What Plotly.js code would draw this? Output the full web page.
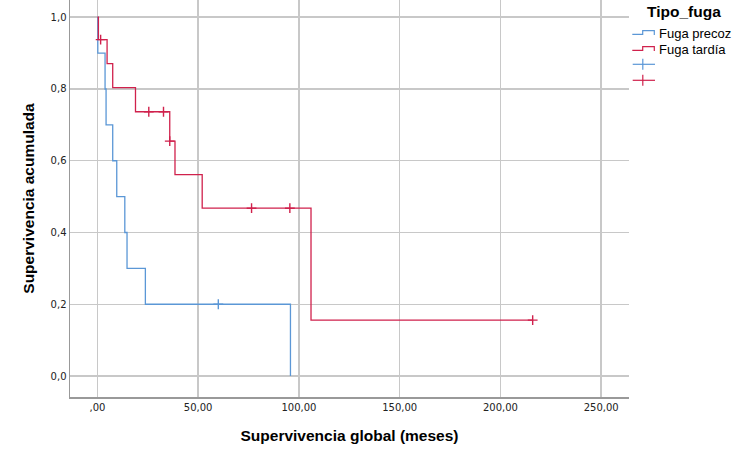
<!DOCTYPE html>
<html>
<head>
<meta charset="utf-8">
<script src="https://cdn.plot.ly/plotly-3.0.1.min.js"></script>
<style>html,body{margin:0;padding:0;background:#fff;}#chart{width:750px;height:459px;}</style>
</head>
<body>
<div id="chart"></div>
<script>
// Fuga precoz (early) – step times and cumulative survival
const precozTimes = [0, 0.2, 3.8, 4.3, 7.6, 9.6, 13.6, 14.7, 23.8, 95.8];
const precozSurv  = [1.0, 0.9, 0.8, 0.7, 0.6, 0.5, 0.4, 0.3, 0.2, 0.0];
const precozCensTimes = [60];
const precozCensSurv  = [0.2];

// Fuga tardía (late)
const tardiaTimes = [0, 0.5, 4.8, 7.6, 18.9, 35.9, 38.5, 52, 106, 216];
const tardiaSurv  = [1.0, 0.9375, 0.8705, 0.8036, 0.7366, 0.6548, 0.5613, 0.4677, 0.1559, 0.1559];
const tardiaCensTimes = [1.6, 25.5, 32.8, 35.9, 76.5, 95.5, 216];
const tardiaCensSurv  = [0.9375, 0.7366, 0.7366, 0.6548, 0.4677, 0.4677, 0.1559];

const xTickVals = [0, 50, 100, 150, 200, 250];
const xTickText = [',00', '50,00', '100,00', '150,00', '200,00', '250,00'];
const yTickVals = [0, 0.2, 0.4, 0.6, 0.8, 1.0];
const yTickText = ['0,0', '0,2', '0,4', '0,6', '0,8', '1,0'];

const groupNames = ['Fuga precoz', 'Fuga tardía'];
const legendTitle = 'Tipo_fuga';

const BLUE = '#5b97d6';
const RED = '#d0214c';

const censorMarker = c => ({symbol: 'cross-thin-open', size: 7, color: c, line: {color: c, width: 1.4}});

const traces = [
  {x: precozTimes, y: precozSurv, type: 'scatter', mode: 'lines', line: {shape: 'hv', color: BLUE, width: 1.3}, name: groupNames[0]},
  {x: tardiaTimes, y: tardiaSurv, type: 'scatter', mode: 'lines', line: {shape: 'hv', color: RED, width: 1.3}, name: groupNames[1]},
  {x: precozCensTimes, y: precozCensSurv, type: 'scatter', mode: 'markers', marker: censorMarker(BLUE), name: ' '},
  {x: tardiaCensTimes, y: tardiaCensSurv, type: 'scatter', mode: 'markers', marker: censorMarker(RED), name: ' '}
];

// plot area in pixels
const L = 70, R = 629, T = 0, B = 397;
const px = v => (v - L) / (R - L);
const py = v => (B - v) / (B - T);

const shapes = [];
const annotations = [];
// manual legend
annotations.push({xref: 'paper', yref: 'paper', x: px(645), y: py(12), xanchor: 'left', yanchor: 'middle', showarrow: false,
  text: '<b>' + legendTitle + '</b>', font: {family: 'Liberation Sans, Arial, sans-serif', size: 15.5, color: '#000'}});
const itemColors = [BLUE, RED];
[34.3, 50.3].forEach((yy, i) => {
  const lo = yy, hi = yy - 3.6;
  shapes.push({type: 'path', xref: 'paper', yref: 'paper',
    path: `M ${px(632.3)},${py(lo)} L ${px(642.7)},${py(lo)} L ${px(642.7)},${py(hi)} L ${px(654.3)},${py(hi)} L ${px(654.3)},${py(lo + 0.7)}`,
    line: {color: itemColors[i], width: 1.2}});
  annotations.push({xref: 'paper', yref: 'paper', x: px(657), y: py(yy - 0.5), xanchor: 'left', yanchor: 'middle', showarrow: false,
    text: groupNames[i], font: {family: 'Liberation Sans, Arial, sans-serif', size: 13, color: '#000'}});
});
[64.3, 80.3].forEach((yy, i) => {
  shapes.push({type: 'line', xref: 'paper', yref: 'paper', x0: px(632.7), x1: px(655), y0: py(yy), y1: py(yy), line: {color: itemColors[i], width: 1.2}});
  shapes.push({type: 'line', xref: 'paper', yref: 'paper', x0: px(642.8), x1: px(642.8), y0: py(yy - 5.5), y1: py(yy + 5.5), line: {color: itemColors[i], width: 1.2}});
});

const layout = {
  width: 750, height: 459,
  margin: {l: L, r: 750 - R, t: T, b: 459 - B, pad: 0},
  paper_bgcolor: '#fff', plot_bgcolor: '#fff',
  showlegend: false,
  shapes: shapes,
  annotations: annotations,
  xaxis: {
    range: [-13.6, 263.8], tickvals: xTickVals, ticktext: xTickText,
    showgrid: true, gridcolor: '#c8c8c8', gridwidth: 1.5, zeroline: false,
    showline: true, linecolor: '#999', linewidth: 1.5, ticks: '',
    tickfont: {family: 'DejaVu Sans, sans-serif', size: 10, color: '#222'},
    title: {text: 'Supervivencia global (meses)', standoff: 18, font: {family: 'Liberation Sans, Arial, sans-serif', size: 15.5, color: '#000', weight: 'bold'}},
    automargin: false
  },
  yaxis: {
    range: [-0.0585, 1.048], tickvals: yTickVals, ticktext: yTickText,
    showgrid: true, gridcolor: '#c8c8c8', gridwidth: 1.5, zeroline: false,
    showline: true, linecolor: '#999', linewidth: 1.5, ticks: '',
    tickfont: {family: 'DejaVu Sans, sans-serif', size: 10, color: '#222'},
    title: {text: 'Supervivencia acumulada', standoff: 12, font: {family: 'Liberation Sans, Arial, sans-serif', size: 15.5, color: '#000', weight: 'bold'}},
    automargin: false
  }
};

Plotly.newPlot('chart', traces, layout, {displayModeBar: false, staticPlot: true});
</script>
</body>
</html>
